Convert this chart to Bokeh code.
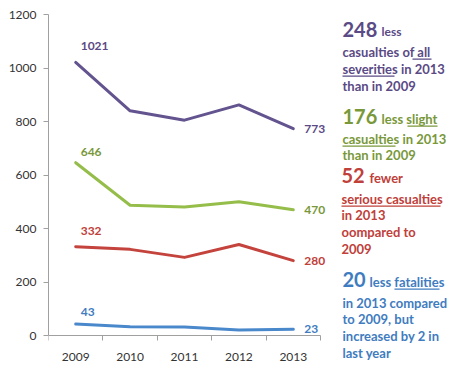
from bokeh.plotting import figure
from bokeh.models import Range1d, FixedTicker, Label, BoxAnnotation, ColumnDataSource
from bokeh.core.properties import value
from bokeh.embed import file_html
from bokeh.resources import INLINE

years = [2009, 2010, 2011, 2012, 2013]
all_severities = [1021, 840, 805, 862, 773]
slight = [646, 487, 480, 500, 470]
serious = [332, 322, 292, 340, 280]
fatal = [43, 33, 32, 21, 23]
y_ticks = [0, 200, 400, 600, 800, 1000, 1200]

PURPLE = "#63548f"
PURPLE_T = "#5a4a85"
GREEN = "#95bd4a"
GREEN_T = "#79983a"
RED = "#c4443d"
RED_T = "#c0403a"
BLUE = "#4a88cc"
BLUE_T = "#3f7cc0"

FONT = "Lato"

# geometry in page pixels: left/top/right/bottom of the plotting area (x 2008.5..2013.5, y 0..1200)
FL, FT, FR, FB = 48, 14, 320, 335
W, H = 451, 370
PX_X = 5.0 / (FR - FL)        # data units per pixel
PX_Y = 1200.0 / (FB - FT)

p = figure(width=W, height=H, output_backend="svg", toolbar_location=None,
           x_range=Range1d(2008.5, 2008.5 + (W - FL) * PX_X),
           y_range=Range1d(-(H - FB) * PX_Y, 1200),
           min_border_left=FL, min_border_right=0, min_border_top=FT,
           min_border_bottom=0)
p.outline_line_color = None
p.grid.grid_line_color = None
p.background_fill_color = "white"
p.border_fill_color = "white"

xa = p.xaxis[0]
xa.fixed_location = 0
xa.bounds = (2008.5, 2013.5)
xa.ticker = FixedTicker(ticks=years, minor_ticks=[2008.5 + i for i in range(6)])
xa.major_tick_line_color = None
xa.major_tick_out = 0
xa.major_tick_in = 0
xa.minor_tick_out = 5
xa.minor_tick_in = 0
xa.minor_tick_line_color = "#a0a0a0"
xa.axis_line_color = "#a0a0a0"
xa.major_label_text_font = FONT
xa.major_label_text_font_size = "12px"
xa.major_label_text_color = "#333333"
xa.major_label_standoff = 12

ya = p.yaxis[0]
ya.bounds = (0, 1200)
ya.ticker = FixedTicker(ticks=y_ticks, minor_ticks=[])
ya.major_tick_out = 5
ya.major_tick_in = 0
ya.major_tick_line_color = "#a0a0a0"
ya.minor_tick_line_color = None
ya.axis_line_color = "#a0a0a0"
ya.major_label_text_font = FONT
ya.major_label_text_font_size = "12px"
ya.major_label_text_color = "#333333"
ya.major_label_standoff = 7

series = [(all_severities, PURPLE, PURPLE_T, 16), (slight, GREEN, GREEN_T, 11),
          (serious, RED, RED_T, 16), (fatal, BLUE, BLUE_T, 12)]
for vals, col, tcol, up in series:
    p.line(years, vals, line_color=col, line_width=3, line_join="round", line_cap="round")
    src_first = ColumnDataSource(dict(x=[years[0]], y=[vals[0]], t=[str(vals[0])]))
    p.text(x="x", y="y", text="t", source=src_first, text_color=tcol,
           text_font=value(FONT), text_font_size="12px", text_font_style="bold",
           text_align="left", text_baseline="middle", x_offset=5, y_offset=-up)
    src_last = ColumnDataSource(dict(x=[years[-1]], y=[vals[-1]], t=[str(vals[-1])]))
    p.text(x="x", y="y", text="t", source=src_last, text_color=tcol,
           text_font=value(FONT), text_font_size="12px", text_font_style="bold",
           text_align="left", text_baseline="middle", x_offset=11, y_offset=0)


def dx(px):
    return 2008.5 + (px - FL) * PX_X


def dy(py):
    return (FB - py) * PX_Y


def lab(text, px, py, color, size="13px"):
    p.add_layout(Label(x=dx(px), y=dy(py), text=text, text_color=color,
                       text_font=FONT, text_font_size=size, text_font_style="bold",
                       text_align="left", text_baseline="middle"))


def ul(px0, px1, py, color):
    p.add_layout(BoxAnnotation(left=dx(px0), right=dx(px1), top=dy(py), bottom=dy(py + 1.3),
                               fill_color=color, fill_alpha=1, line_color=None))


# purple block
lab("248", 342, 29, PURPLE_T, "20px")
lab("less", 381, 31, PURPLE_T, "12px")
lab("casualties of all", 342, 51, PURPLE_T)
lab("severities in 2013", 342, 68, PURPLE_T)
lab("than in 2009", 342, 85, PURPLE_T)
ul(412, 431, 58, PURPLE_T)
ul(342, 394, 75, PURPLE_T)

# green block
lab("176", 342, 116, GREEN_T, "20px")
lab("less slight", 381, 118, GREEN_T)
lab("casualties in 2013", 342, 138, GREEN_T)
lab("than in 2009", 342, 154, GREEN_T)
ul(407, 437, 125, GREEN_T)
ul(342, 395, 145, GREEN_T)

# red block
lab("52", 341, 175, RED_T, "20px")
lab("fewer", 369, 177, RED_T)
lab("serious casualties", 341, 198, RED_T)
lab("in 2013", 341, 214, RED_T)
lab("oompared to", 341, 231, RED_T)
lab("2009", 341, 248, RED_T)
ul(341, 440, 205, RED_T)

# blue block
lab("20", 342, 279, BLUE_T, "20px")
lab("less fatalities", 369, 281, BLUE_T)
lab("in 2013 compared", 342, 302, BLUE_T)
lab("to 2009, but", 342, 318, BLUE_T)
lab("increased by 2 in", 342, 335, BLUE_T)
lab("last year", 342, 352, BLUE_T)
ul(394, 439, 288, BLUE_T)

open("out.html", "w").write(file_html(p, INLINE))
